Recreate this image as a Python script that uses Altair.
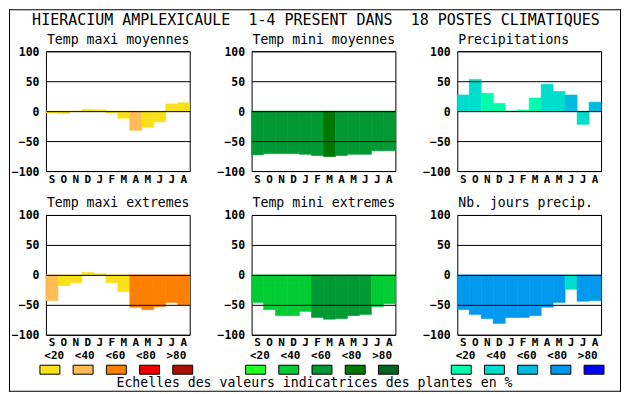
import altair as alt
import pandas as pd

# ---------------- data ----------------
months = ["Sept", "Oct", "Nov", "Dec", "Janv", "Fevr", "Mars", "Avr", "Mai", "Juin", "Juil", "Aout"]
month_letters = ["S", "O", "N", "D", "J", "F", "M", "A", "M", "J", "J", "A"]
y_ticks = [-100, -50, 0, 50, 100]

main_title = "HIERACIUM AMPLEXICAULE\u00a0 1-4 PRESENT DANS\u00a0 18 POSTES CLIMATIQUES"
footer = "Echelles des valeurs indicatrices des plantes en %"
scale_labels = ["<20", "<40", "<60", "<80", ">80"]

pal_tmax = ["#F8E11A", "#FFBB55", "#FF8000", "#EE0000", "#AA1100"]
pal_tmin = ["#22FF22", "#00CC33", "#009933", "#007700", "#006622"]
pal_prec = ["#00FFAA", "#00DDCC", "#00BBDD", "#0099EE", "#0000FF"]

titles = ["Temp maxi moyennes", "Temp mini moyennes", "Precipitations",
          "Temp maxi extremes", "Temp mini extremes", "Nb. jours precip."]

tmax_moy = [-3, -4, 0, 3, 2, -3, -12, -32, -27, -18, 12, 14]
tmax_moy_cls = [0, 0, 0, 0, 0, 0, 0, 1, 0, 0, 0, 0]

tmin_moy = [-73, -71, -71, -71, -72, -74, -76, -74, -72, -72, -66, -66]
tmin_moy_cls = [2, 2, 2, 2, 2, 2, 3, 2, 2, 2, 2, 2]

prec = [27, 53, 30, 13, 0, 2, 22, 45, 33, 27, -22, 15]
prec_cls = [1, 1, 0, 0, 0, 0, 0, 1, 1, 2, 1, 2]

tmax_ext = [-43, -18, -13, 4, 2, -13, -28, -54, -58, -53, -46, -50]
tmax_ext_cls = [1, 0, 0, 0, 0, 0, 0, 2, 2, 2, 2, 2]

tmin_ext = [-46, -58, -68, -68, -61, -71, -74, -73, -68, -66, -53, -48]
tmin_ext_cls = [1, 1, 1, 1, 1, 2, 2, 2, 2, 2, 1, 1]

jours = [-58, -66, -73, -81, -71, -71, -68, -54, -46, -24, -44, -43]
jours_cls = [3, 3, 3, 3, 3, 3, 3, 3, 3, 1, 3, 3]

# ---------------- building ----------------
FONT = "DejaVu Sans Mono"
W, H = 144, 120

letters_js = "[" + ",".join("'%s'" % s for s in month_letters) + "]"
months_js = "[" + ",".join("'%s'" % s for s in months) + "]"


def panel(title, values, classes, palette, extra=()):
    df = pd.DataFrame({"mois": months, "v": values,
                       "c": [palette[k] for k in classes]})
    bars = alt.Chart(df).mark_bar(strokeWidth=0.6).encode(
        x=alt.X("mois:N", sort=months,
                scale=alt.Scale(paddingInner=0, paddingOuter=0),
                axis=alt.Axis(title=None, ticks=False, domain=False, grid=False,
                              labelAngle=0, labelPadding=2,
                              labelFont=FONT, labelFontSize=11, labelFontWeight="bold",
                              labelColor="black", zindex=1,
                              labelExpr=letters_js + "[indexof(" + months_js + ", datum.value)]")),
        y=alt.Y("v:Q", scale=alt.Scale(domain=[-100, 100], nice=False),
                axis=alt.Axis(values=y_ticks, title=None, ticks=False, domain=False,
                              grid=True, gridColor="black", gridOpacity=1, gridWidth=1,
                              labelFont=FONT, labelFontSize=11.5, labelFontWeight="bold",
                              labelColor="black", labelPadding=7, labelOffset=1,
                              zindex=1)),
        color=alt.Color("c:N", scale=None),
        stroke=alt.Stroke("c:N", scale=None),
    )
    ttl = alt.Chart(pd.DataFrame({"t": [title]})).mark_text(
        align="left", baseline="alphabetic", font=FONT, fontSize=13.2, color="black"
    ).encode(x=alt.value(1), y=alt.value(-7.5), text="t:N")
    layers = list(extra) + [bars, ttl]
    return alt.layer(*layers).properties(width=W, height=H)


def legend_layers(palette):
    df = pd.DataFrame({"k": scale_labels, "c": palette})
    xs = alt.X("k:N", sort=scale_labels,
               scale=alt.Scale(range=[-6, 147], paddingInner=0.4, paddingOuter=0),
               axis=None)
    sw = alt.Chart(df).mark_rect(stroke="black", strokeWidth=1).encode(
        x=xs, y=alt.value(150.5), y2=alt.value(159.5),
        color=alt.Color("c:N", scale=None))
    lb = alt.Chart(df).mark_text(
        align="center", baseline="alphabetic", font=FONT, fontSize=11,
        fontWeight="bold", color="black", dx=-1
    ).encode(x=xs, y=alt.value(144), text="k:N")
    return [sw, lb]


def edge(x1, x2, y1, y2):
    # one side of the outer frame (thin filled rectangle, crisp 1px)
    return alt.Chart(pd.DataFrame({"a": [0]})).mark_rect(color="black").encode(
        x=alt.value(x1), x2=alt.value(x2), y=alt.value(y1), y2=alt.value(y2))


frame = [edge(-37, 576, -42, -41), edge(-37, 576, 340, 341),
         edge(-37, -36, -42, 341), edge(575, 576, -42, 341)]

head = alt.Chart(pd.DataFrame({"t": [main_title]})).mark_text(
    align="center", baseline="alphabetic", font=FONT, fontSize=15, color="black"
).encode(x=alt.value(64.5), y=alt.value(-26.5), text="t:N")

foot = alt.Chart(pd.DataFrame({"t": [footer]})).mark_text(
    align="center", baseline="alphabetic", font=FONT, fontSize=13.2, color="black"
).encode(x=alt.value(63), y=alt.value(172), text="t:N")

p1 = panel(titles[0], tmax_moy, tmax_moy_cls, pal_tmax, frame)
p2 = panel(titles[1], tmin_moy, tmin_moy_cls, pal_tmin, [head])
p3 = panel(titles[2], prec, prec_cls, pal_prec)
p4 = panel(titles[3], tmax_ext, tmax_ext_cls, pal_tmax, legend_layers(pal_tmax)).resolve_scale(x="independent")
p5 = panel(titles[4], tmin_ext, tmin_ext_cls, pal_tmin, legend_layers(pal_tmin) + [foot]).resolve_scale(x="independent")
p6 = panel(titles[5], jours, jours_cls, pal_prec, legend_layers(pal_prec)).resolve_scale(x="independent")

chart = alt.concat(p1, p2, p3, p4, p5, p6, columns=3,
                   spacing={"row": 44, "column": 62}, bounds="flush").properties(
    padding=0, background="white"
).configure_view(stroke="black", strokeWidth=1)

chart.save("out.html", embed_options={"renderer": "svg", "actions": False})
